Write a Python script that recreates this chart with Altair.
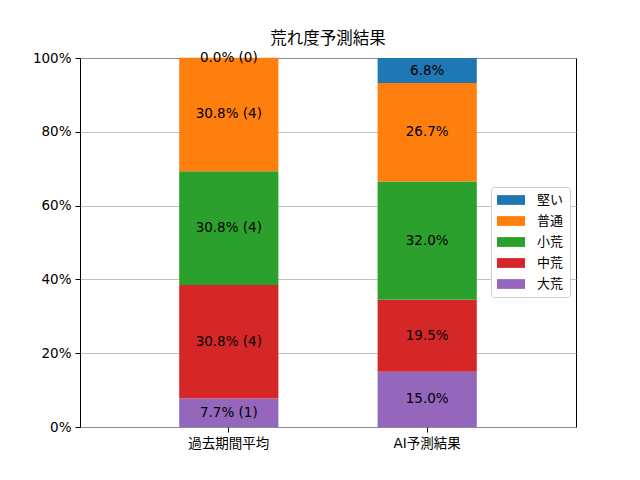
import altair as alt
import pandas as pd

categories = ["過去期間平均", "AI予測結果"]
levels = ["大荒", "中荒", "小荒", "普通", "堅い"]
colors = ["#9467bd", "#d62728", "#2ca02c", "#ff7f0e", "#1f77b4"]
past_values = [0.077, 0.308, 0.308, 0.308, 0.0]
past_counts = [1, 4, 4, 4, 0]
ai_values = [0.150, 0.195, 0.320, 0.267, 0.068]

rows = []
for i, lv in enumerate(levels):
    rows.append({"cat": categories[0], "level": lv, "order": i, "value": past_values[i],
                 "label": f"{past_values[i]*100:.1f}% ({past_counts[i]})"})
for i, lv in enumerate(levels):
    rows.append({"cat": categories[1], "level": lv, "order": i, "value": ai_values[i],
                 "label": f"{ai_values[i]*100:.1f}%"})
df = pd.DataFrame(rows)

FONT = "DejaVu Sans, Noto Sans CJK JP"
FS = 13.5

base = alt.Chart(df).transform_stack(
    stack="value", groupby=["cat"], as_=["y0", "y1"], sort=[alt.SortField("order")]
).transform_calculate(mid="(datum.y0 + datum.y1) / 2")

x_enc = alt.X("cat:N", sort=categories, title=None,
              scale=alt.Scale(paddingInner=0.5, paddingOuter=0.5),
              axis=alt.Axis(labelAngle=0, labelFontSize=FS, labelFont=FONT, labelColor="black",
                            tickColor="black", tickSize=5, labelPadding=4, domain=False))

bars = base.mark_bar().encode(
    x=x_enc,
    y=alt.Y("y0:Q", title=None, scale=alt.Scale(domain=[0, 1], nice=False),
            axis=alt.Axis(format=".0%", values=[0, 0.2, 0.4, 0.6, 0.8, 1.0], labelFontSize=FS,
                          labelFont=FONT, labelColor="black", tickColor="black", tickSize=5,
                          labelPadding=4, grid=True, gridColor="#b0b0b0", gridWidth=0.8,
                          domain=False)),
    y2="y1:Q",
    color=alt.Color("level:N", scale=alt.Scale(domain=levels, range=colors),
                    sort=list(reversed(levels)),
                    legend=alt.Legend(title=None, orient="none", legendX=411, legendY=129,
                                      labelFont=FONT, labelFontSize=13, labelColor="black",
                                      symbolType="M-1,-0.7L3,-0.7L3,0.7L-1,0.7Z",
                                      symbolSize=196, symbolStrokeWidth=0, symbolOpacity=1,
                                      rowPadding=7, padding=6, labelOffset=26,
                                      strokeColor="#cccccc",
                                      fillColor="white", cornerRadius=3,
                                      values=list(reversed(levels)))),
)

texts = base.mark_text(font=FONT, fontSize=FS, color="black").encode(
    x=alt.X("cat:N", sort=categories),
    y=alt.Y("mid:Q"),
    text="label:N",
)

chart = alt.layer(bars, texts).properties(
    width=496, height=369,
    title=alt.Title("荒れ度予測結果", font=FONT, fontSize=16.5, fontWeight="normal", color="black", offset=3),
    autosize=alt.AutoSizeParams(type="none"),
    padding={"left": 72, "top": 50, "right": 56, "bottom": 45},
).configure_view(stroke="black", strokeWidth=1)

chart.save("out.html", embed_options={"renderer": "svg", "actions": False})
